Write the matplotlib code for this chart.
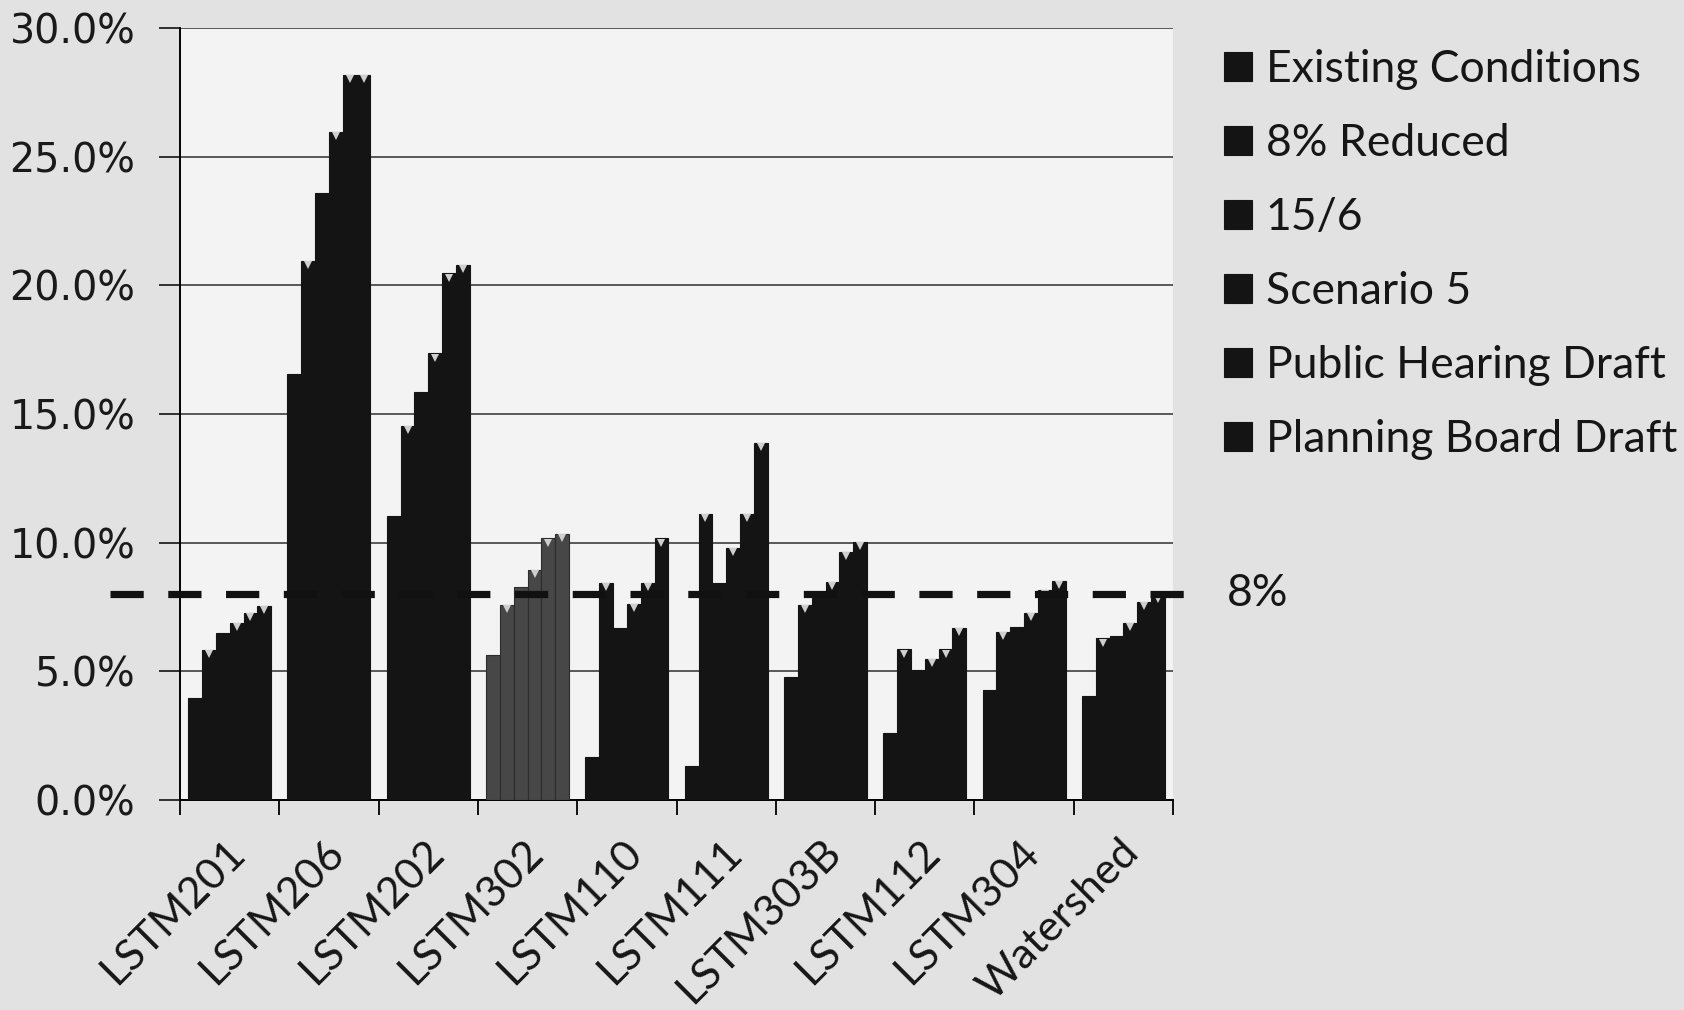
import numpy as np
import matplotlib
matplotlib.use("Agg")
from matplotlib import pyplot as plt
from matplotlib import transforms

# percent impervious cover per subwatershed, one list per scenario
sites = ["LSTM201", "LSTM206", "LSTM202", "LSTM302", "LSTM110",
         "LSTM111", "LSTM303B", "LSTM112", "LSTM304", "Watershed"]
scenarios = ["Existing Conditions", "8% Reduced", "15/6", "Scenario 5",
             "Public Hearing Draft", "Planning Board Draft"]

existing = [3.94, 16.55, 11.04, 5.62, 1.64, 1.32, 4.78, 2.58, 4.26, 4.03]
reduced8 = [5.82, 20.96, 14.54, 7.57, 8.44, 11.10, 7.57, 5.84, 6.53, 6.27]
s15_6 = [6.49, 23.61, 15.87, 8.28, 6.66, 8.41, 7.83, 5.04, 6.70, 6.37]
scen5 = [6.88, 25.98, 17.36, 8.93, 7.60, 9.80, 8.47, 5.46, 7.25, 6.86]
public = [7.25, 28.20, 20.47, 10.16, 8.44, 11.11, 9.62, 5.84, 8.15, 7.70]
planning = [7.53, 28.20, 20.80, 10.32, 10.16, 13.86, 10.03, 6.67, 8.49, 7.96]

threshold = 8.0

series = [existing, reduced8, s15_6, scen5, public, planning]
has_tip = [False, True, False, True, True, True]

fig = plt.figure(figsize=(16.84, 10.10), dpi=100)
fig.patch.set_facecolor("#e2e2e2")
ax = fig.add_axes([0.1069, 0.2084, 0.5897, 0.7634])
ax.set_facecolor("#f3f3f3")

x = np.arange(len(sites))
width = 0.836 / 6
bars = []
for j, vals in enumerate(series):
    vals = np.array(vals) / 100.0
    colors = ["#474747" if s == "LSTM302" else "#141414" for s in sites]
    edges = ["#2c2c2c" if s == "LSTM302" else "#141414" for s in sites]
    b = ax.bar(x + (j - 2.5) * width, vals, width, color=colors,
               edgecolor=edges, linewidth=0.8, label=scenarios[j], zorder=3)
    bars.append(b)
    if has_tip[j]:
        # little light notch on top of the bar
        tr = transforms.offset_copy(ax.transData, fig=fig, x=0, y=-3, units="points")
        ax.plot(x + (j - 2.5) * width, vals, "v", ms=5.5, color="#cfcfcf",
                mew=0, transform=tr, zorder=4)

ax.set_xlim(-0.5, len(sites) - 0.5)
ax.set_ylim(0, 0.30)
ax.set_yticks(np.arange(0, 0.31, 0.05))
ax.set_yticklabels(["%.1f%%" % (v * 100) for v in np.arange(0, 0.31, 0.05)],
                   family="DejaVu Sans", fontsize=28.5, color="#1a1a1a")
ax.yaxis.grid(True, color="#2e2e2e", linewidth=1.1, zorder=1)
ax.set_axisbelow(True)

# ticks between groups, labels at group centres
ax.set_xticks(np.arange(-0.5, len(sites), 1.0))
ax.set_xticklabels([])
ax.set_xticks(x, minor=True)
ax.set_xticklabels(sites, minor=True, rotation=45, ha="right", va="top",
                   rotation_mode="anchor", family="Lato", fontsize=31, color="#161616")
ax.tick_params(axis="x", which="minor", length=0, pad=24)
ax.tick_params(axis="x", which="major", length=11, width=1.3, direction="out")
ax.tick_params(axis="y", length=15, width=1.1, pad=17, direction="out")
for lbl in ax.get_xticklabels(minor=True):
    lbl.set_transform(lbl.get_transform() + transforms.ScaledTranslation(-0.045, 0, fig.dpi_scale_trans))

ax.spines["top"].set_visible(False)
ax.spines["right"].set_visible(False)
ax.spines["left"].set_linewidth(1.4)
ax.spines["bottom"].set_linewidth(1.4)

# 8% target line running past both sides of the plot
ax.axhline(threshold / 100.0, xmin=-0.0705, xmax=1.034, color="#111111",
           linewidth=5.2, dashes=(4.6, 3.4), solid_capstyle="butt",
           dash_capstyle="butt", clip_on=False, zorder=5)
ax.text(1.054, threshold / 100.0, "%d%%" % threshold,
        transform=transforms.blended_transform_factory(ax.transAxes, ax.transData),
        va="center", ha="left", family="Lato", fontsize=32, color="#161616")

fig.legend(handles=bars, labels=scenarios, loc="upper left",
           bbox_to_anchor=(0.727, 0.951), frameon=False, borderpad=0,
           borderaxespad=0, prop={"family": "Lato", "size": 32},
           handlelength=0.63, handleheight=0.63, handletextpad=0.3,
           labelspacing=0.74, labelcolor="#161616")

plt.savefig("out.png", dpi=100, facecolor=fig.get_facecolor())
